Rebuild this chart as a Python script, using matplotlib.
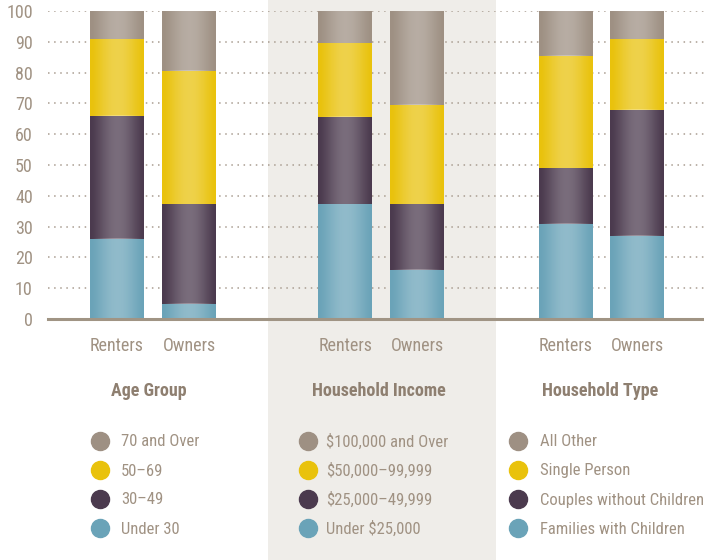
import numpy as np
import matplotlib
matplotlib.use("Agg")
import matplotlib.pyplot as plt
from matplotlib import font_manager
from matplotlib.lines import Line2D
from matplotlib.patches import Rectangle

# pick a condensed face if one is installed
narrow = ["Liberation Sans Narrow", "Roboto Condensed", "Open Sans Condensed",
          "Noto Sans Condensed", "DejaVu Sans Condensed", "Arial Narrow"]
fonts = font_manager.fontManager.ttflist
names = {f.name for f in fonts}
family, stretch = None, "normal"
for n in narrow:
    if n in names:
        family = n
        break
if family is None:
    for f in fonts:
        if f.stretch in ("condensed", "semi-condensed", "extra-condensed", "ultra-condensed") \
                and f.name in ("DejaVu Sans", "Noto Sans", "Roboto", "Open Sans", "Liberation Sans"):
            family, stretch = f.name, f.stretch
            break
if family is None:
    family = "DejaVu Sans"
    fs, fs_leg = 10.5, 9.5
else:
    fs, fs_leg = 13, 12
plt.rcParams['font.family'] = [family, 'DejaVu Sans']
plt.rcParams['font.stretch'] = stretch

# data (percent of households)
groups = ["Age Group", "Household Income", "Household Type"]
bar_labels = ["Renters", "Owners"] * 3
positions = [0, 1, 3.17, 4.17, 6.23, 7.22]

# bottom segment -> top segment, per bar
seg1 = [26, 5, 37.5, 16, 31, 27]        # Under 30 / Under $25,000 / Families with Children
seg2 = [40, 32.5, 28, 21.5, 18, 41]     # 30-49 / $25,000-49,999 / Couples without Children
seg3 = [25, 43, 24, 32, 36.5, 23]       # 50-69 / $50,000-99,999 / Single Person
seg4 = [9, 19.5, 10.5, 30.5, 14.5, 9]   # 70 and Over / $100,000 and Over / All Other

legend_age = ["70 and Over", "50\u201369", "30\u201349", "Under 30"]
legend_income = ["$100,000 and Over", "$50,000\u201399,999", "$25,000\u201349,999", "Under $25,000"]
legend_type = ["All Other", "Single Person", "Couples without Children", "Families with Children"]

colors = ["#6aa3b8", "#4b3a4e", "#e9c20c", "#9e9083"]
text_col = "#a09283"
title_col = "#8e7f70"

fig = plt.figure(figsize=(7.04, 5.6), dpi=100)
W, H = 704, 560

# shaded panel behind middle group
fig.patches.append(Rectangle((268 / W, 0), 228 / W, 1, transform=fig.transFigure,
                             facecolor="#efede9", edgecolor="none", zorder=0))

ax = fig.add_axes([48 / W, (H - 319) / H, (W - 48) / W, 308 / H])
ax.set_facecolor("none")
ax.set_zorder(2)

# horizontal shading for bars: lighter in the middle
prof = np.sin(np.linspace(0, np.pi, 64)) ** 1.5
grad = np.zeros((1, 64, 4))
grad[..., :3] = 1.0
grad[..., 3] = 0.26 * prof

width = 0.75
bottom = np.zeros(len(positions))
for vals, c in zip([seg1, seg2, seg3, seg4], colors):
    bars = ax.bar(positions, vals, width, bottom=bottom, color=c, zorder=3)
    for b in bars:
        x0, y0 = b.get_x(), b.get_y()
        ax.imshow(grad, extent=(x0, x0 + b.get_width(), y0, y0 + b.get_height()),
                  aspect="auto", zorder=4, interpolation="bilinear")
    bottom += np.array(vals)

ax.set_xlim(-0.958, 8.15)
ax.set_ylim(0, 100)
ax.set_yticks(range(0, 101, 10))
for y in range(10, 101, 10):
    ax.axhline(y, color="#a99d91", lw=1.1, ls=(0, (1, 3)), zorder=1)
ax.axhline(0, color="#a09484", lw=2.2, zorder=5, clip_on=False)

for s in ax.spines.values():
    s.set_visible(False)
ax.set_xticks(positions)
ax.set_xticklabels(bar_labels)
ax.tick_params(axis="both", length=0, labelsize=fs, colors=text_col)
ax.tick_params(axis="y", pad=11)
ax.tick_params(axis="x", pad=13)

# group titles
title_x = [149, 379, 600]
for t, x in zip(groups, title_x):
    fig.text(x / W, 1 - 391 / H, t, ha="center", va="center", fontsize=fs,
             fontweight="bold", color=title_col)

# legends
leg_x = [(100, 121), (308, 326), (518, 540)]
rows = [442, 471, 500, 529]
for labels, (mx, tx) in zip([legend_age, legend_income, legend_type], leg_x):
    for lab, c, ry in zip(labels, colors[::-1], rows):
        fig.add_artist(Line2D([mx / W], [1 - (ry - 1) / H], marker="o", markersize=13,
                              color=c, transform=fig.transFigure))
        fig.text(tx / W, 1 - ry / H, lab, ha="left", va="center", fontsize=fs_leg,
                 color=text_col)

fig.savefig("out.png", dpi=100)
